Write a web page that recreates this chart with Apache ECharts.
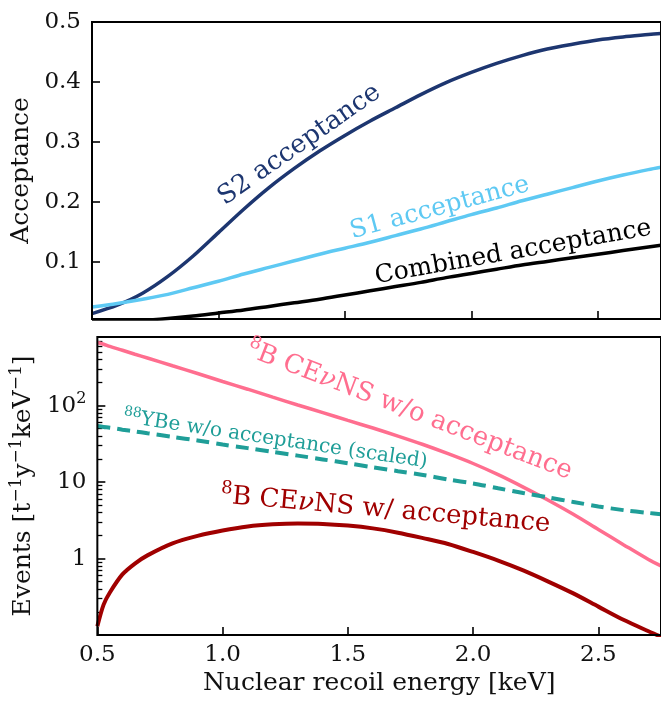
<!DOCTYPE html>
<html>
<head>
<meta charset="utf-8">
<script src="https://cdn.jsdelivr.net/npm/echarts@6/dist/echarts.min.js"></script>
<style>
html,body{margin:0;padding:0;background:#fff;}
#c{width:661px;height:701px;}
</style>
</head>
<body>
<div id="c"></div>
<script>
// ---- Top panel: acceptance ----
const xTop = [0.5,0.6,0.7,0.8,0.9,1.0,1.1,1.2,1.3,1.4,1.5,1.6,1.7,1.8,1.9,2.0,2.1,2.2,2.3,2.4,2.5,2.6,2.7,2.75];
const s2Acc = [0.014,0.028,0.048,0.076,0.110,0.149,0.188,0.224,0.256,0.285,0.311,0.335,0.357,0.379,0.399,0.416,0.431,0.444,0.455,0.463,0.470,0.475,0.479,0.481];
const s1Acc = [0.025,0.031,0.038,0.046,0.057,0.068,0.080,0.091,0.102,0.113,0.123,0.133,0.144,0.155,0.167,0.179,0.190,0.202,0.213,0.224,0.235,0.245,0.254,0.258];
const combAcc = [0.001,0.002,0.003,0.006,0.010,0.015,0.020,0.026,0.032,0.038,0.045,0.052,0.059,0.066,0.074,0.081,0.088,0.095,0.101,0.107,0.113,0.119,0.125,0.128];

// ---- Bottom panel: event rates ----
const xBot = [0.5,0.525,0.55,0.6,0.65,0.7,0.8,0.9,1.0,1.1,1.2,1.3,1.4,1.5,1.6,1.7,1.8,1.9,2.0,2.1,2.2,2.3,2.4,2.5,2.6,2.7,2.75];
const b8NoAcc = [670,635,595,530,470,420,332,263,207,164,129,102,81,64,51,40,31,23.5,17.5,12.5,8.6,5.8,3.8,2.4,1.52,0.97,0.8];
const ybeNoAcc = [54,52.5,51.5,48.5,46,43.5,39,35,31,27.8,24.8,22.2,19.8,17.6,15.6,13.9,12.4,10.8,9.6,8.3,7.2,6.3,5.5,4.8,4.3,3.95,3.8];
const b8WithAcc = [0.13,0.25,0.36,0.62,0.86,1.1,1.58,1.98,2.33,2.63,2.8,2.87,2.84,2.7,2.48,2.18,1.85,1.55,1.22,0.94,0.7,0.5,0.35,0.235,0.158,0.112,0.095];

// ---- Ticks ----
const xTicks = [0.5,1.0,1.5,2.0,2.5];
const accTicks = [0.1,0.2,0.3,0.4,0.5];
const logMajor = [1,10,100];
const logMinor = [0.2,0.3,0.4,0.5,0.6,0.7,0.8,0.9,2,3,4,5,6,7,8,9,20,30,40,50,60,70,80,90,200,300,400,500,600,700];

const FONT = 'DejaVu Serif';
const TICK_FS = 23, TITLE_FS = 25;
const pairs = (xs, ys) => xs.map((x,i)=>[x, ys[i]]);

const chart = echarts.init(document.getElementById('c'), null, {renderer:'canvas'});

const gridTop = {left:92, top:22, width:573, height:297, show:true, borderColor:'#000', borderWidth:2, backgroundColor:'transparent', z:10};
const gridBot = {left:92, top:337, width:573, height:298, show:true, borderColor:'#000', borderWidth:2, backgroundColor:'transparent', z:10};

function xAxisDef(gi, showLabels){
  return {
    type:'value', gridIndex:gi, min:0.5, max:2.75, position:'bottom',
    axisLine:{show:false}, splitLine:{show:false},
    axisTick:{show:true, inside:true, length:8, lineStyle:{color:'#000', width:1.6}, customValues:xTicks},
    axisLabel:{show:showLabels, customValues:xTicks, formatter:v=>v.toFixed(1), fontFamily:FONT, fontSize:TICK_FS, color:'#111', margin:9},
    name: showLabels ? 'Nuclear recoil energy [keV]' : '',
    nameLocation:'middle', nameGap:36,
    nameTextStyle:{fontFamily:FONT, fontSize:TITLE_FS, color:'#111'}
  };
}

const supRich = (fs, color, lh) => ({
  sup:{fontFamily:FONT, fontSize:fs, color:color, verticalAlign:'top', lineHeight:Math.round(fs*1.15)},
  n:{fontFamily:FONT, fontSize:lh, color:color, lineHeight:Math.round(lh*1.25)}
});

const option = {
  animation:false,
  backgroundColor:'#fff',
  grid:[gridTop, gridBot],
  xAxis:[xAxisDef(0,false), xAxisDef(1,true)],
  yAxis:[
    {type:'value', gridIndex:0, min:0.005, max:0.5,
     axisLine:{show:false}, splitLine:{show:false},
     axisTick:{show:true, inside:true, length:8, lineStyle:{color:'#000', width:1.6}, customValues:accTicks},
     axisLabel:{customValues:accTicks, formatter:v=>v.toFixed(1), fontFamily:FONT, fontSize:TICK_FS, color:'#111', margin:11},
     name:'Acceptance', nameLocation:'middle', nameGap:56,
     nameTextStyle:{fontFamily:FONT, fontSize:TITLE_FS, color:'#111'}},
    {type:'log', logBase:10, gridIndex:1, min:0.1, max:790,
     axisLine:{show:false}, splitLine:{show:false},
     axisTick:{show:true, inside:true, length:8, lineStyle:{color:'#000', width:1.6}, customValues:logMajor},
     axisLabel:{customValues:logMajor, formatter:v=>(v>=99?'{n|10}{sup|2}':'{n|'+Math.round(v)+'}'),
       rich:supRich(16,'#111',TICK_FS), fontFamily:FONT, fontSize:TICK_FS, color:'#111', margin:11},
     name:'{n|Events [t}{sup|−1}{n|y}{sup|−1}{n|keV}{sup|−1}{n|]}', nameLocation:'middle', nameGap:53,
     nameTextStyle:{fontFamily:FONT, fontSize:TITLE_FS, color:'#111', rich:supRich(17,'#111',TITLE_FS)}},
    {type:'log', logBase:10, gridIndex:1, min:0.1, max:790, position:'left', offset:0,
     axisLine:{show:false}, splitLine:{show:false},
     axisTick:{show:true, inside:true, length:5, lineStyle:{color:'#000', width:1.3}, customValues:logMinor},
     axisLabel:{show:false}}
  ],
  series:[
    {type:'line', name:'S2 acceptance', xAxisIndex:0, yAxisIndex:0, data:pairs(xTop,s2Acc), showSymbol:false, smooth:0.3,
     lineStyle:{color:'#1d3670', width:3.5}},
    {type:'line', name:'S1 acceptance', xAxisIndex:0, yAxisIndex:0, data:pairs(xTop,s1Acc), showSymbol:false, smooth:0.3,
     lineStyle:{color:'#5ec9f3', width:3.5}},
    {type:'line', name:'Combined acceptance', xAxisIndex:0, yAxisIndex:0, data:pairs(xTop,combAcc), showSymbol:false, smooth:0.3,
     lineStyle:{color:'#000', width:3.5}},
    {type:'line', name:'8B w/o', xAxisIndex:1, yAxisIndex:1, data:pairs(xBot,b8NoAcc), showSymbol:false, smooth:0.3,
     lineStyle:{color:'#ff6e8f', width:3.5}},
    {type:'line', name:'88YBe', xAxisIndex:1, yAxisIndex:1, data:pairs(xBot,ybeNoAcc), showSymbol:false, smooth:0.3,
     lineStyle:{color:'#1f9e98', width:4, type:[13,7]}},
    {type:'line', name:'8B w/', xAxisIndex:1, yAxisIndex:1, data:pairs(xBot,b8WithAcc), showSymbol:false, smooth:0.3,
     lineStyle:{color:'#a00000', width:4}}
  ]
};
chart.setOption(option);

// annotations anchored in data coordinates
const notes = [
  {t:'{n|S2 acceptance}', xi:0, yi:0, x:1.32, y:0.295, r:35, c:'#1d3670', s:26},
  {t:'{n|S1 acceptance}', xi:0, yi:0, x:1.875, y:0.19, r:15, c:'#5ec9f3', s:25},
  {t:'{n|Combined acceptance}', xi:0, yi:0, x:2.165, y:0.116, r:10, c:'#000', s:25},
  {t:'{sup|8}{n|B CE}{nu|ν}{n|NS w/o acceptance}', xi:1, yi:1, x:1.745, y:86, r:-21, c:'#ff6e8f', s:26},
  {t:'{sup|88}{n|YBe w/o acceptance (scaled)}', xi:1, yi:1, x:1.21, y:36, r:-8.5, c:'#1f9e98', s:20},
  {t:'{sup|8}{n|B CE}{nu|ν}{n|NS w/ acceptance}', xi:1, yi:1, x:1.65, y:4.3, r:-5, c:'#a00000', s:26}
];
chart.setOption({graphic: notes.map(n=>{
  const p = chart.convertToPixel({xAxisIndex:n.xi, yAxisIndex:n.yi}, [n.x, n.y]);
  const supFs = Math.round(n.s*0.7);
  return {type:'text', x:p[0], y:p[1], rotation:n.r*Math.PI/180, z:100,
    style:{text:n.t, fill:n.c, font:n.s+'px "'+FONT+'"', align:'center', verticalAlign:'middle',
      rich:{
        n:{fill:n.c, font:n.s+'px "'+FONT+'"', lineHeight:Math.round(n.s*1.25)},
        nu:{fill:n.c, font:'italic '+n.s+'px "'+FONT+'"', lineHeight:Math.round(n.s*1.25)},
        sup:{fill:n.c, font:supFs+'px "'+FONT+'"', verticalAlign:'top', lineHeight:Math.round(supFs*1.15)}
      }}};
})});
</script>
</body>
</html>
